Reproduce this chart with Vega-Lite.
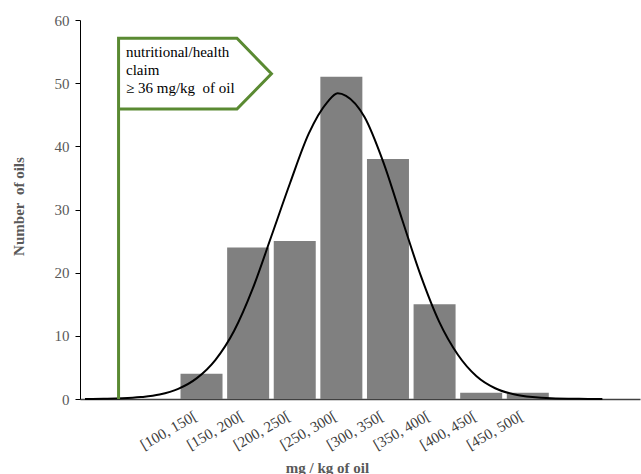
{
  "$schema": "https://vega.github.io/schema/vega-lite/v6.json",
  "width": 560,
  "height": 379,
  "autosize": {"type": "none"},
  "padding": {"left": 80, "top": 20, "right": 1, "bottom": 75},
  "background": "white",
  "config": {"view": {"stroke": null}, "font": "Liberation Serif"},
  "datasets": {
    "bins": [
      {"bin": "[100, 150[", "mid": 125, "count": 4},
      {"bin": "[150, 200[", "mid": 175, "count": 24},
      {"bin": "[200, 250[", "mid": 225, "count": 25},
      {"bin": "[250, 300[", "mid": 275, "count": 51},
      {"bin": "[300, 350[", "mid": 325, "count": 38},
      {"bin": "[350, 400[", "mid": 375, "count": 15},
      {"bin": "[400, 450[", "mid": 425, "count": 1},
      {"bin": "[450, 500[", "mid": 475, "count": 1}
    ],
    "curve": [
      {"x": 0, "y": 0}, {"x": 20, "y": 0.03}, {"x": 40, "y": 0.1}, {"x": 60, "y": 0.3},
      {"x": 80, "y": 0.7}, {"x": 100, "y": 1.6}, {"x": 120, "y": 3.3}, {"x": 140, "y": 6.2},
      {"x": 160, "y": 10.8}, {"x": 180, "y": 17.5}, {"x": 200, "y": 25.8}, {"x": 220, "y": 34.2},
      {"x": 240, "y": 42.0}, {"x": 260, "y": 47.0}, {"x": 271, "y": 48.4}, {"x": 280, "y": 48.0},
      {"x": 300, "y": 44.6}, {"x": 320, "y": 37.5}, {"x": 340, "y": 28.5}, {"x": 360, "y": 19.6},
      {"x": 380, "y": 12.2}, {"x": 400, "y": 7.0}, {"x": 420, "y": 3.6}, {"x": 440, "y": 1.7},
      {"x": 460, "y": 0.75}, {"x": 480, "y": 0.3}, {"x": 500, "y": 0.1}, {"x": 530, "y": 0.02},
      {"x": 555, "y": 0}
    ],
    "flag": [
      {"order": 1, "x": 36, "y": 0},
      {"order": 2, "x": 36, "y": 57.1},
      {"order": 3, "x": 163, "y": 57.1},
      {"order": 4, "x": 200, "y": 51.5},
      {"order": 5, "x": 163, "y": 45.9},
      {"order": 6, "x": 36, "y": 45.9}
    ],
    "note": [
      {"label": "nutritional/health\nclaim\n≥ 36 mg/kg\u00a0 of oil", "x": 44, "y": 54.1}
    ]
  },
  "encoding": {
    "x": {
      "type": "quantitative",
      "scale": {"domain": [0, 590], "nice": false, "zero": false},
      "axis": {
        "values": [125, 175, 225, 275, 325, 375, 425, 475],
        "labelExpr": "'[' + (datum.value - 25) + ', ' + (datum.value + 25) + '['",
        "labelAngle": -30,
        "labelAlign": "right",
        "labelBaseline": "top",
        "labelPadding": 9,
        "labelOffset": -10,
        "labelOverlap": false,
        "labelFontSize": 15,
        "labelColor": "#404040",
        "labelFont": "Liberation Serif",
        "ticks": false,
        "grid": false,
        "domainColor": "#404040",
        "domainWidth": 1.5,
        "title": "mg / kg of oil",
        "titleFont": "Liberation Serif",
        "titleFontSize": 15,
        "titleFontWeight": "bold",
        "titleColor": "#595959",
        "titleX": 247,
        "titleY": 68,
        "titleBaseline": "middle"
      }
    },
    "y": {
      "type": "quantitative",
      "scale": {"domain": [0, 60], "nice": false},
      "axis": {
        "values": [0, 10, 20, 30, 40, 50, 60],
        "tickSize": 5,
        "tickColor": "black",
        "domainColor": "black",
        "labelColor": "#595959",
        "labelFontSize": 15,
        "labelFont": "Liberation Serif",
        "labelPadding": 6,
        "grid": false,
        "title": "Number\u00a0 of oils",
        "titleFont": "Liberation Serif",
        "titleFontSize": 15,
        "titleFontWeight": "bold",
        "titleColor": "#595959",
        "titleX": -62,
        "titleY": 186,
        "titleBaseline": "middle"
      }
    }
  },
  "layer": [
    {
      "data": {"name": "bins"},
      "mark": {"type": "bar", "width": 42, "color": "#808080"},
      "encoding": {
        "x": {"field": "mid", "type": "quantitative"},
        "y": {"field": "count", "type": "quantitative"}
      }
    },
    {
      "data": {"name": "curve"},
      "mark": {"type": "line", "color": "black", "strokeWidth": 2, "interpolate": "monotone"},
      "encoding": {
        "x": {"field": "x", "type": "quantitative"},
        "y": {"field": "y", "type": "quantitative"}
      }
    },
    {
      "data": {"name": "flag"},
      "mark": {"type": "line", "color": "#5a8a32", "strokeWidth": 3, "strokeJoin": "miter"},
      "encoding": {
        "x": {"field": "x", "type": "quantitative"},
        "y": {"field": "y", "type": "quantitative"},
        "order": {"field": "order", "type": "quantitative"}
      }
    },
    {
      "data": {"name": "note"},
      "mark": {"type": "text", "align": "left", "baseline": "alphabetic", "lineBreak": "\n", "lineHeight": 18, "fontSize": 15, "font": "Liberation Serif", "color": "black"},
      "encoding": {
        "x": {"field": "x", "type": "quantitative"},
        "y": {"field": "y", "type": "quantitative"},
        "text": {"field": "label"}
      }
    }
  ]
}
